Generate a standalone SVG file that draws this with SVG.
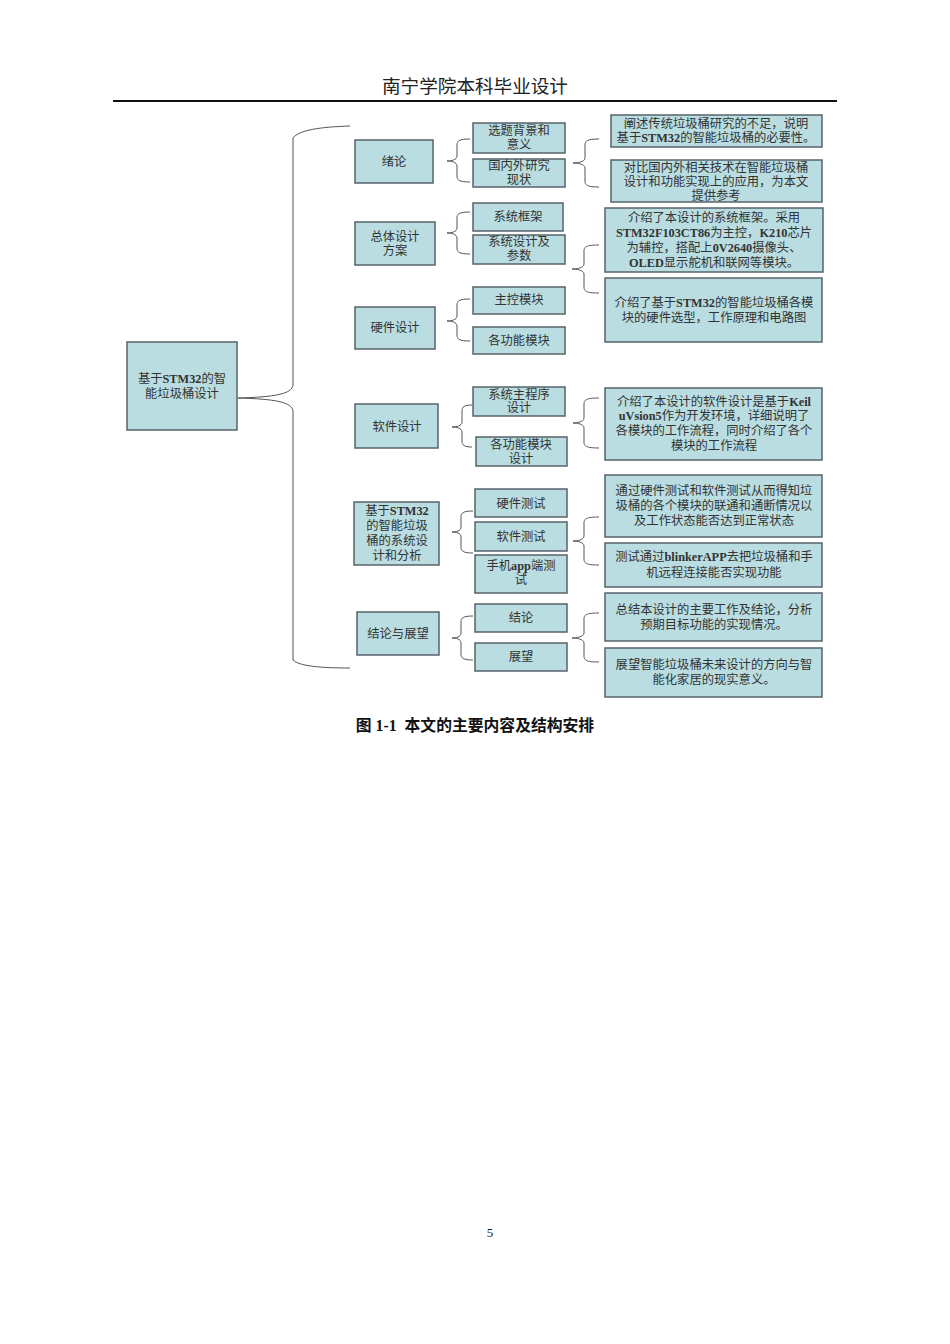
<svg xmlns="http://www.w3.org/2000/svg" width="950" height="1344" viewBox="0 0 950 1344">
<style>
text{font-family:'Liberation Serif','Noto Sans CJK SC',serif;fill:#333;font-size:12.3px;text-anchor:middle}
.b{font-weight:bold}
.box{fill:#B9DDE1;stroke:#56636a;stroke-width:1.5}
.br{fill:none;stroke:#555;stroke-width:1}
.hd{font-size:18.6px;fill:#222}
.cap{font-size:15.8px;font-weight:bold;fill:#111}
</style>
<rect x="0" y="0" width="950" height="1344" fill="#fff"/>
<text class="hd" x="475" y="93">南宁学院本科毕业设计</text>
<line x1="113" y1="101" x2="837" y2="101" stroke="#111" stroke-width="2"/>

<g id="connectors">
<path class="br" d="M350,126 C320,127 299,130 293,138 L293,385 C292,394 275,397 238,398 C275,399 292,402 293,411 L293,660 C299,666 320,668 350,668"/>
<path class="br" d="M470,139 C459,139 457,141 457,145 L457,156 C457,160 451,161 447,161 C451,161 457,162 457,166 L457,176 C457,180 459,182 470,182"/>
<path class="br" d="M470,212 C459,212 457,214 457,218 L457,228 C457,232 451,233 447,233 C451,233 457,234 457,238 L457,248 C457,252 459,254 470,254"/>
<path class="br" d="M470,299 C459,299 457,301 457,305 L457,316 C457,320 451,321 447,321 C451,321 457,322 457,326 L457,335 C457,339 459,341 470,341"/>
<path class="br" d="M472,405 C464,405 462,407 462,411 L462,422 C462,426 456,427 452,427 C456,427 462,428 462,432 L462,441 C462,445 464,447 472,447"/>
<path class="br" d="M473,511 C463,511 461,513 461,517 L461,527 C461,531 456,532 452,532 C456,532 461,533 461,537 L461,547 C461,551 463,553 473,553"/>
<path class="br" d="M473,616 C463,616 461,618 461,622 L461,633 C461,637 456,638 452,638 C456,638 461,639 461,643 L461,654 C461,658 463,660 473,660"/>
<path class="br" d="M599,139 C587,139 585,141 585,145 L585,158 C585,162 577,163 573,163 C577,163 585,164 585,168 L585,181 C585,185 587,187 599,187"/>
<path class="br" d="M599,245 C586,245 584,247 584,251 L584,264 C584,268 576,269 572,269 C576,269 584,270 584,274 L584,287 C584,291 586,293 599,293"/>
<path class="br" d="M599,398 C586,398 584,400 584,404 L584,418 C584,422 577,423 573,423 C577,423 584,424 584,428 L584,442 C584,446 586,448 599,448"/>
<path class="br" d="M599,517 C586,517 584,519 584,523 L584,536 C584,540 577,541 573,541 C577,541 584,542 584,546 L584,559 C584,563 586,565 599,565"/>
<path class="br" d="M599,613 C586,613 584,615 584,619 L584,633 C584,637 576,638 572,638 C576,638 584,639 584,643 L584,656 C584,660 586,662 599,662"/>
</g>

<g id="root">
<rect class="box" x="127" y="342" width="110" height="88"/>
<text x="182" y="383">基于<tspan class="b">STM32</tspan>的智</text>
<text x="182" y="398">能垃圾桶设计</text>
</g>

<g id="n-xulun"><rect class="box" x="355" y="140" width="78" height="43"/><text x="394" y="166">绪论</text></g>
<g id="n-zongti"><rect class="box" x="355" y="222" width="80" height="43"/><text x="395" y="241">总体设计</text><text x="395" y="255">方案</text></g>
<g id="n-yingjian"><rect class="box" x="355" y="307" width="80" height="42"/><text x="395" y="332">硬件设计</text></g>
<g id="n-ruanjian"><rect class="box" x="355" y="404" width="83" height="44"/><text x="397" y="431">软件设计</text></g>
<g id="n-xitong"><rect class="box" x="354" y="502" width="85" height="63"/>
<text x="397" y="515">基于<tspan class="b">STM32</tspan></text><text x="397" y="530">的智能垃圾</text><text x="397" y="545">桶的系统设</text><text x="397" y="560">计和分析</text></g>
<g id="n-jielun"><rect class="box" x="357" y="612" width="82" height="43"/><text x="398" y="638">结论与展望</text></g>

<g id="s1"><rect class="box" x="473" y="123" width="92" height="30"/><text x="519" y="135">选题背景和</text><text x="519" y="149">意义</text></g>
<g id="s2"><rect class="box" x="473" y="159" width="92" height="28"/><text x="519" y="170">国内外研究</text><text x="519" y="184">现状</text></g>
<g id="s3"><rect class="box" x="473" y="203" width="90" height="28"/><text x="518" y="221">系统框架</text></g>
<g id="s4"><rect class="box" x="473" y="235" width="92" height="29"/><text x="519" y="246">系统设计及</text><text x="519" y="260">参数</text></g>
<g id="s5"><rect class="box" x="473" y="287" width="92" height="27"/><text x="519" y="304">主控模块</text></g>
<g id="s6"><rect class="box" x="473" y="327" width="92" height="27"/><text x="519" y="345">各功能模块</text></g>
<g id="s7"><rect class="box" x="473" y="387" width="92" height="29"/><text x="519" y="399">系统主程序</text><text x="519" y="412">设计</text></g>
<g id="s8"><rect class="box" x="476" y="437" width="91" height="29"/><text x="521" y="449">各功能模块</text><text x="521" y="463">设计</text></g>
<g id="s9"><rect class="box" x="475" y="489" width="92" height="28"/><text x="521" y="508">硬件测试</text></g>
<g id="s10"><rect class="box" x="475" y="522" width="92" height="29"/><text x="521" y="541">软件测试</text></g>
<g id="s11"><rect class="box" x="475" y="555" width="92" height="38"/><text x="521" y="570">手机<tspan class="b">app</tspan>端测</text><text x="521" y="584">试</text></g>
<g id="s12"><rect class="box" x="475" y="604" width="92" height="28"/><text x="521" y="622">结论</text></g>
<g id="s13"><rect class="box" x="475" y="643" width="92" height="28"/><text x="521" y="661">展望</text></g>

<g id="d1"><rect class="box" x="611" y="115" width="211" height="32"/><text x="716" y="128">阐述传统垃圾桶研究的不足，说明</text><text x="716" y="142">基于<tspan class="b">STM32</tspan>的智能垃圾桶的必要性。</text></g>
<g id="d2"><rect class="box" x="611" y="160" width="211" height="42"/><text x="716" y="172">对比国内外相关技术在智能垃圾桶</text><text x="716" y="186">设计和功能实现上的应用，为本文</text><text x="716" y="200">提供参考</text></g>
<g id="d3"><rect class="box" x="605" y="208" width="218" height="64"/><text x="714" y="222">介绍了本设计的系统框架。采用</text><text x="714" y="237"><tspan class="b">STM32F103CT86</tspan>为主控，<tspan class="b">K210</tspan>芯片</text><text x="714" y="252">为辅控，搭配上<tspan class="b">0V2640</tspan>摄像头、</text><text x="714" y="267"><tspan class="b">OLED</tspan>显示舵机和联网等模块。</text></g>
<g id="d4"><rect class="box" x="605" y="278" width="217" height="64"/><text x="714" y="307">介绍了基于<tspan class="b">STM32</tspan>的智能垃圾桶各模</text><text x="714" y="322">块的硬件选型，工作原理和电路图</text></g>
<g id="d5"><rect class="box" x="605" y="388" width="217" height="72"/><text x="714" y="406">介绍了本设计的软件设计是基于<tspan class="b">Keil</tspan></text><text x="714" y="420"><tspan class="b">uVsion5</tspan>作为开发环境，详细说明了</text><text x="714" y="435">各模块的工作流程，同时介绍了各个</text><text x="714" y="450">模块的工作流程</text></g>
<g id="d6"><rect class="box" x="605" y="475" width="217" height="62"/><text x="714" y="495">通过硬件测试和软件测试从而得知垃</text><text x="714" y="510">圾桶的各个模块的联通和通断情况以</text><text x="714" y="525">及工作状态能否达到正常状态</text></g>
<g id="d7"><rect class="box" x="605" y="543" width="217" height="44"/><text x="714" y="561">测试通过<tspan class="b">blinkerAPP</tspan>去把垃圾桶和手</text><text x="714" y="577">机远程连接能否实现功能</text></g>
<g id="d8"><rect class="box" x="605" y="593" width="217" height="48"/><text x="714" y="614">总结本设计的主要工作及结论，分析</text><text x="714" y="629">预期目标功能的实现情况。</text></g>
<g id="d9"><rect class="box" x="605" y="648" width="217" height="49"/><text x="714" y="669">展望智能垃圾桶未来设计的方向与智</text><text x="714" y="684">能化家居的现实意义。</text></g>

<text class="cap" x="475" y="731" xml:space="preserve">图 1-1  本文的主要内容及结构安排</text>
<text x="490" y="1237" style="font-size:13px;fill:#222">5</text>
</svg>
